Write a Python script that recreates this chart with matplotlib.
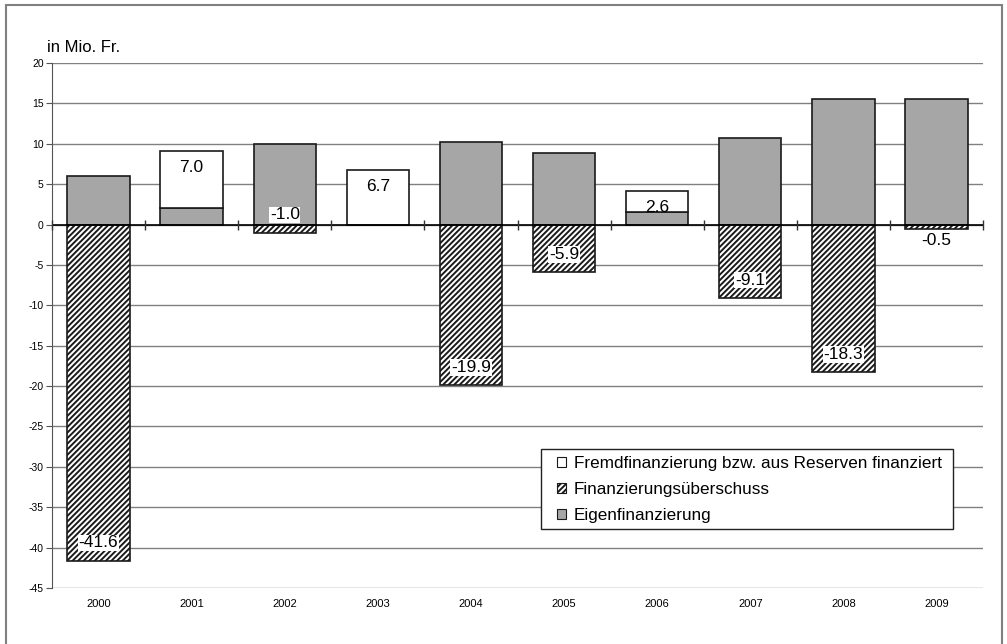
import matplotlib.pyplot as plt
import matplotlib.patches as mpatches
import numpy as np

plt.rcParams['font.family'] = ['Liberation Sans', 'DejaVu Sans']
plt.rcParams['hatch.linewidth'] = 1.4
plt.rcParams['axes.unicode_minus'] = False

# data (Mio. Fr.)
jahre = ['2000', '2001', '2002', '2003', '2004', '2005', '2006', '2007', '2008', '2009']
eigen = [6.0, 2.1, 10.0, 0.0, 10.2, 8.9, 1.5, 10.7, 15.6, 15.6]
fremd = [0.0, 7.0, 0.0, 6.7, 0.0, 0.0, 2.6, 0.0, 0.0, 0.0]
ueberschuss = [-41.6, 0.0, -1.0, 0.0, -19.9, -5.9, 0.0, -9.1, -18.3, -0.5]

x = np.arange(len(jahre))
w = 0.67
grau = '#a6a6a6'
kante = '#1a1a1a'

fig = plt.figure(figsize=(10.07, 6.44), dpi=100)
ax = fig.add_axes([52/1007, 1-588/644, (983-52)/1007, (588-63)/644])

# outer frame
fig.patches.append(mpatches.Rectangle((6/1007, -0.02), (1002-6)/1007, 1-5/644+0.02,
                                      transform=fig.transFigure, fill=False,
                                      edgecolor='#808080', lw=1.5))

ax.set_ylim(-45, 20)
ax.set_xlim(-0.5, len(jahre)-0.5)
ax.set_yticks(np.arange(-45, 21, 5))
ax.yaxis.grid(True, color='#808080', lw=1)
ax.set_axisbelow(True)
for s in ['top', 'right', 'bottom']:
    ax.spines[s].set_visible(False)
ax.spines['left'].set_color('#555555')
ax.tick_params(axis='y', labelsize=7.5, length=4, color='#555555', pad=2)
ax.set_xticks(x)
ax.set_xticklabels(jahre, fontsize=8)
ax.tick_params(axis='x', length=0, pad=8)

# bars
ax.bar(x, eigen, w, color=grau, edgecolor=kante, lw=1.2, zorder=3)
fm = [f if f > 0 else np.nan for f in fremd]
ax.bar(x, fm, w, bottom=eigen, color='white', edgecolor=kante, lw=1.2, zorder=3)
um = [u if u < 0 else np.nan for u in ueberschuss]
ax.bar(x, um, w, color='white', edgecolor=kante, hatch='//////', lw=1.2, zorder=3)

# zero line with category ticks
ax.axhline(0, color='black', lw=1.2, zorder=4)
ax.plot(np.arange(len(jahre)+1)-0.5, np.zeros(len(jahre)+1), '|', color='#333333',
        ms=7, mew=1, zorder=4, clip_on=False)

# labels
for i in range(len(jahre)):
    if fremd[i] > 0:
        ax.text(x[i], eigen[i]+fremd[i]-2.0, '%.1f' % fremd[i], ha='center', va='center',
                fontsize=12.5, zorder=5)
    u = ueberschuss[i]
    if u < 0:
        if u > -0.8:
            ax.text(x[i], u-1.5, '%.1f' % u, ha='center', va='center', fontsize=12.5, zorder=5)
        else:
            ax.text(x[i], u+2.2, '%.1f' % u, ha='center', va='center', fontsize=12.5, zorder=5,
                    bbox=dict(facecolor='white', edgecolor='none', pad=0.5))

fig.text(47/1007, 1-47/644, 'in Mio. Fr.', fontsize=12, va='center', ha='left')

# legend: frame drawn separately
ax.add_patch(mpatches.Rectangle((0.525, 0.112), 0.443, 0.153, transform=ax.transAxes,
                                facecolor='white', edgecolor='#222222', lw=1, zorder=6))
h1 = mpatches.Patch(facecolor='white', edgecolor=kante, lw=0.8)
h2 = mpatches.Patch(facecolor='white', edgecolor=kante, hatch='//////', lw=0.8)
h3 = mpatches.Patch(facecolor=grau, edgecolor=kante, lw=0.8)
leg = ax.legend([h1, h2, h3],
                ['Fremdfinanzierung bzw. aus Reserven finanziert', 'Finanzierungsüberschuss',
                 'Eigenfinanzierung'],
                loc='upper left', bbox_to_anchor=(0.5424, 0.252), frameon=False,
                fontsize=12.3, handlelength=0.5, handleheight=0.5, handletextpad=0.5,
                borderpad=0, labelspacing=0.66, borderaxespad=0)
leg.set_zorder(7)

fig.savefig('out.png', dpi=100)
